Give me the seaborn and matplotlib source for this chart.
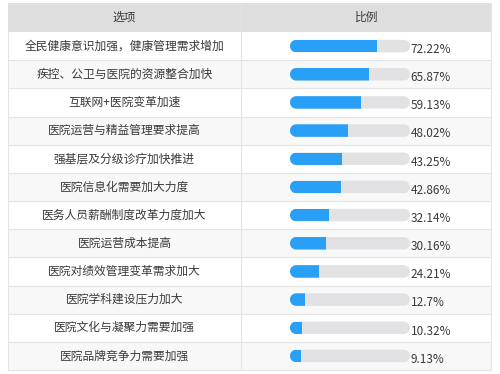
import matplotlib
matplotlib.use("Agg")
import matplotlib.pyplot as plt
from matplotlib.patches import Rectangle, PathPatch
from matplotlib.path import Path
import numpy as np
import seaborn as sns
import pandas as pd

sns.set_theme(style="white")
plt.rcParams['font.family'] = ['Noto Sans CJK SC', 'DejaVu Sans']

header = ["选项", "比例"]
options = [
    "全民健康意识加强，健康管理需求增加",
    "疾控、公卫与医院的资源整合加快",
    "互联网+医院变革加速",
    "医院运营与精益管理要求提高",
    "强基层及分级诊疗加快推进",
    "医院信息化需要加大力度",
    "医务人员薪酬制度改革力度加大",
    "医院运营成本提高",
    "医院对绩效管理变革需求加大",
    "医院学科建设压力加大",
    "医院文化与凝聚力需要加强",
    "医院品牌竞争力需要加强",
]
ratios = [72.22, 65.87, 59.13, 48.02, 43.25, 42.86, 32.14, 30.16, 24.21, 12.7, 10.32, 9.13]
ratio_labels = ["72.22%", "65.87%", "59.13%", "48.02%", "43.25%", "42.86%",
                "32.14%", "30.16%", "24.21%", "12.7%", "10.32%", "9.13%"]
full = [100] * len(options)

df = pd.DataFrame({"option": options, "ratio": ratios, "full": full})

W, H = 500, 374
fig = plt.figure(figsize=(W / 100, H / 100), dpi=100)

# ---- table background (pixel coordinates) ----
bg = fig.add_axes([0, 0, 1, 1])
bg.set_xlim(0, W)
bg.set_ylim(0, H)
bg.axis("off")


def Y(y):  # top-based pixel -> bg coords
    return H - y


left, right, mid = 8, 491, 241
top, head_bot, bottom = 3, 32, 370
n = len(options)
row_h = (bottom - head_bot) / n
text_c = "#3a3a3a"
line_c = "#e4e4e4"

bg.add_patch(Rectangle((left, Y(head_bot)), right - left, head_bot - top,
                       facecolor="#dedede", edgecolor="none"))
for i in range(n):
    y0 = head_bot + i * row_h
    fc = "#ffffff" if i % 2 == 0 else "#f8f8f8"
    bg.add_patch(Rectangle((left, Y(y0 + row_h)), right - left, row_h, facecolor=fc, edgecolor="none"))
    bg.plot([left, right], [Y(y0 + row_h)] * 2, color=line_c, lw=0.8)
    bg.text((left + mid) / 2, Y(y0 + row_h / 2), options[i], ha="center", va="center",
            fontsize=8.5, color=text_c)
bg.plot([mid, mid], [Y(top), Y(bottom)], color=line_c, lw=0.8)
bg.plot([right, right], [Y(top), Y(bottom)], color=line_c, lw=0.8)
bg.plot([left, left], [Y(head_bot), Y(bottom)], color=line_c, lw=0.8)
bg.text((left + mid) / 2, Y((top + head_bot) / 2), header[0], ha="center", va="center",
        fontsize=8.5, color=text_c)
bg.text(367, Y((top + head_bot) / 2), header[1], ha="center", va="center",
        fontsize=8.5, color=text_c)

# ---- bars ----
bx0, bx1 = 290, 410
ax = fig.add_axes([bx0 / W, (H - bottom) / H, (bx1 - bx0) / W, (bottom - head_bot) / H])
ax.patch.set_alpha(0)
bar_frac = 12.5 / row_h
sns.barplot(data=df, x="full", y="option", orient="h", color="#e2e2e4",
            width=bar_frac, ax=ax, saturation=1, linewidth=0, edgecolor="none")
n_gray = len(ax.patches)
sns.barplot(data=df, x="ratio", y="option", orient="h", color="#29a0f8",
            width=bar_frac, ax=ax, saturation=1, linewidth=0, edgecolor="none")
ax.set_xlim(0, 100)
ax.axis("off")


def pill_path(xa, ya, xb, yb):
    r = (yb - ya) / 2.0
    cy = (ya + yb) / 2.0
    t1 = np.linspace(-np.pi / 2, np.pi / 2, 25)
    t2 = np.linspace(np.pi / 2, 3 * np.pi / 2, 25)
    right_arc = np.column_stack([xb - r + r * np.cos(t1), cy + r * np.sin(t1)])
    left_arc = np.column_stack([xa + r + r * np.cos(t2), cy + r * np.sin(t2)])
    verts = np.vstack([right_arc, left_arc, right_arc[:1]])
    codes = [Path.MOVETO] + [Path.LINETO] * (len(verts) - 2) + [Path.CLOSEPOLY]
    return Path(verts, codes)


to_bg = ax.transData + bg.transData.inverted()
patches = list(ax.patches)
rounded = []
for p in patches[:n_gray]:
    x, y, w, h = p.get_x(), p.get_y(), p.get_width(), p.get_height()
    (X0, Y0), (X1, Y1) = to_bg.transform([(x, y), (x + w, y + h)])
    pp = PathPatch(pill_path(min(X0, X1), min(Y0, Y1), max(X0, X1), max(Y0, Y1)),
                   facecolor=p.get_facecolor(), edgecolor="none", zorder=3)
    p.remove()
    bg.add_patch(pp)
    rounded.append(pp)
for p, pp in zip(patches[n_gray:], rounded):
    p.set_clip_path(pp)
    p.set_zorder(3)

for i, lab in enumerate(ratio_labels):
    ax.text(100.5, i + 0.12, lab, ha="left", va="center", fontsize=8.5,
            color=text_c, clip_on=False)

fig.savefig("out.png", dpi=100)
